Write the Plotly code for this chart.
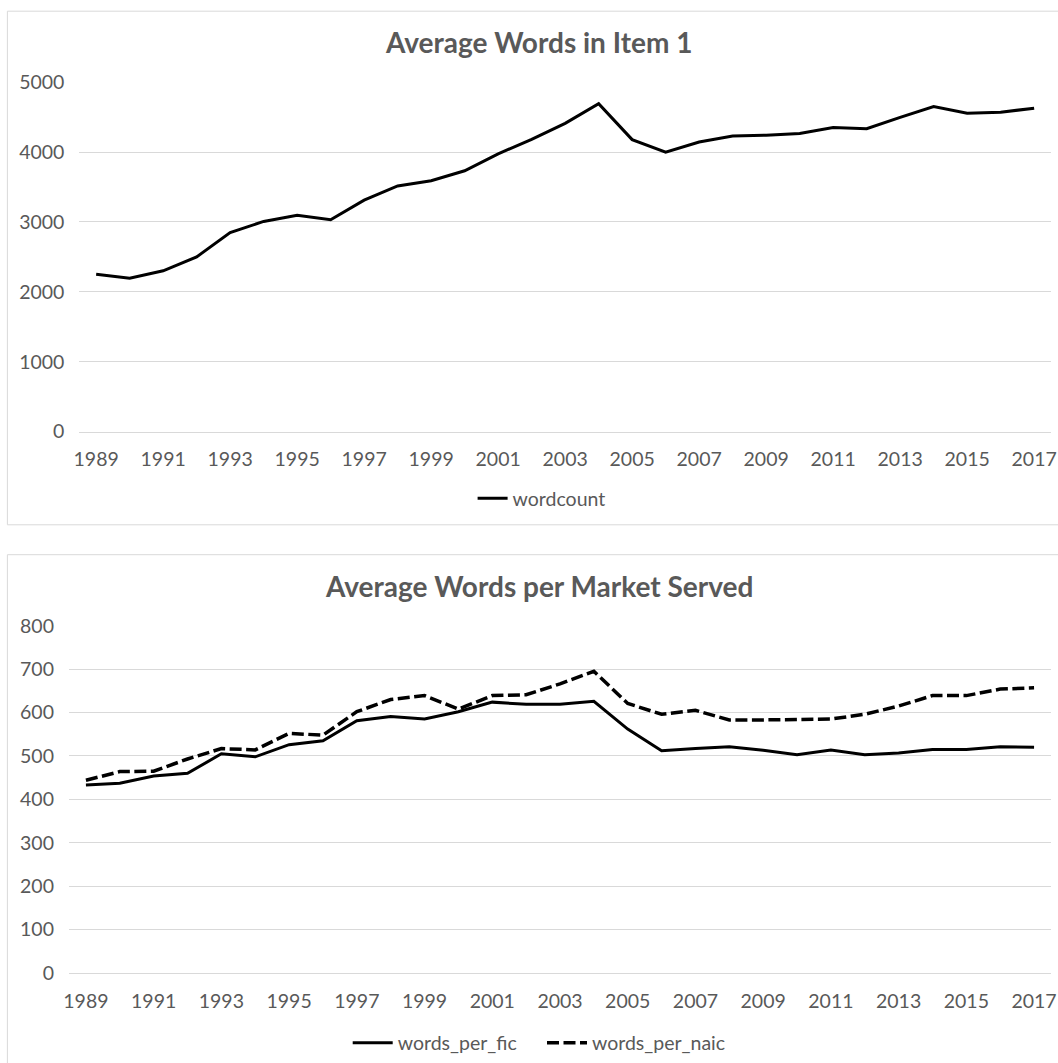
import plotly.graph_objects as go

years = list(range(1989, 2018))

wordcount = [2250, 2195, 2300, 2500, 2847, 3007, 3094, 3031, 3312, 3515,
             3588, 3732, 3974, 4180, 4409, 4690, 4177, 3998, 4143, 4230,
             4240, 4265, 4352, 4332, 4496, 4651, 4555, 4569, 4627]

words_per_fic = [433, 437, 454, 460, 505, 498, 526, 535, 581, 591,
                 585, 602, 624, 619, 619, 626, 562, 512, 517, 521,
                 513, 503, 514, 503, 507, 515, 515, 521, 520]

words_per_naic = [444, 464, 465, 493, 517, 514, 552, 548, 602, 630,
                  639, 608, 639, 641, 666, 695, 621, 596, 605, 583,
                  583, 585, 585, 596, 615, 639, 639, 654, 657]

title_top = "Average Words in Item 1"
title_bottom = "Average Words per Market Served"

W, H = 1058, 1063
def px(x):
    return x / W
def py(y):
    return 1 - y / H

FONT = "Lato"
GRAY = "#595959"
GRID = "#d9d9d9"

fig = go.Figure()
fig.add_trace(go.Scatter(x=years, y=wordcount, mode="lines", name="wordcount",
                         line=dict(color="black", width=3),
                         xaxis="x", yaxis="y", legend="legend"))
fig.add_trace(go.Scatter(x=years, y=words_per_fic, mode="lines", name="words_per_fic",
                         line=dict(color="black", width=3),
                         xaxis="x2", yaxis="y2", legend="legend2"))
fig.add_trace(go.Scatter(x=years, y=words_per_naic, mode="lines", name="words_per_naic",
                         line=dict(color="black", width=3.5, dash="12px,4.5px"),
                         xaxis="x2", yaxis="y2", legend="legend3"))

tickfont = dict(family=FONT, size=19.5, color=GRAY)
legfont = dict(family=FONT, size=19.5, color=GRAY)

xcommon = dict(range=[1988.5, 2017.5], tick0=1989, dtick=2, showgrid=False,
               zeroline=False, showline=True, linecolor=GRID, linewidth=1,
               ticks="", tickfont=tickfont, ticklabelstandoff=10, fixedrange=True,
               automargin=False)
ycommon = dict(showgrid=True, gridcolor=GRID, gridwidth=1, zeroline=False,
               showline=False, ticks="", tickfont=tickfont, ticklabelstandoff=14,
               fixedrange=True, automargin=False)

leg = dict(xanchor="left", yanchor="middle", orientation="h", font=legfont,
           bgcolor="rgba(0,0,0,0)", borderwidth=0)

fig.update_layout(
    width=W, height=H,
    margin=dict(l=0, r=0, t=0, b=0, autoexpand=False),
    paper_bgcolor="white", plot_bgcolor="white",
    font=dict(family=FONT, color=GRAY),
    xaxis=dict(domain=[px(79.4), px(1050.9)], anchor="y", **xcommon),
    yaxis=dict(domain=[py(431.6), py(82.1)], anchor="x", range=[0, 5000], dtick=1000, **ycommon),
    xaxis2=dict(domain=[px(69), px(1051)], anchor="y2", **xcommon),
    yaxis2=dict(domain=[py(973.1), py(625.7)], anchor="x2", range=[0, 800], dtick=100, **ycommon),
    legend=dict(x=px(472.6), y=py(498.6), **leg),
    legend2=dict(x=px(347.7), y=py(1043), itemwidth=40, **leg),
    legend3=dict(x=px(542), y=py(1043), itemwidth=40, **leg),
    showlegend=True,
    hovermode=False,
    shapes=[
        dict(type="rect", xref="paper", yref="paper", x0=px(7.4), x1=px(1065),
             y0=py(524.8), y1=py(11.2), line=dict(color=GRID, width=1), layer="below"),
        dict(type="rect", xref="paper", yref="paper", x0=px(7.4), x1=px(1065),
             y0=py(1075), y1=py(554.7), line=dict(color=GRID, width=1), layer="below"),
    ],
    annotations=[
        dict(text="<b>%s</b>" % title_top, x=px(538), y=py(42), xref="paper", yref="paper",
             showarrow=False, xanchor="center", yanchor="middle",
             font=dict(family=FONT, size=28, color=GRAY)),
        dict(text="<b>%s</b>" % title_bottom, x=px(538.6), y=py(585.8), xref="paper", yref="paper",
             showarrow=False, xanchor="center", yanchor="middle",
             font=dict(family=FONT, size=28, color=GRAY)),
    ],
)

fig.write_html("out.html", config={"displayModeBar": False},
               post_script="document.body.style.margin='0';document.body.style.overflow='hidden';")
